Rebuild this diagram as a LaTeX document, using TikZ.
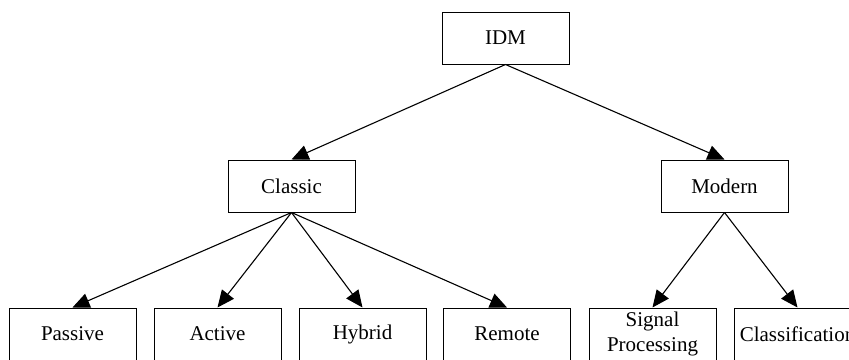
\documentclass[tikz,border=0pt]{standalone}
\usepackage{fontspec}
\setmainfont{Liberation Serif}
\usetikzlibrary{arrows.meta}
\begin{document}
\begin{tikzpicture}[x=1pt,y=-1pt,
  box/.style={draw, line width=1pt, minimum width=127pt, minimum height=52pt, inner sep=0pt, align=center, font=\fontsize{21}{25}\selectfont},
  edge/.style={line width=1.1pt, -{Triangle[length=17pt,width=15pt]}}]
\useasboundingbox (0,0) rectangle (849,359);
\clip (0,0) rectangle (849,359);
\node[box] (idm) at (505.5,38) {IDM};
\node[box] (classic) at (291.5,186) {Classic};
\node[box] (modern) at (724.5,186) {Modern};
\node[box] (passive) at (72.5,334) {Passive};
\node[box] (active) at (217.5,334) {Active};
\node[box] (hybrid) at (362.5,334) {Hybrid};
\node[box] (remote) at (507,334) {Remote};
\node[box] (signal) at (652.5,334) {Signal\\Processing};
\node[box] (class) at (797.5,334) {Classification};
\draw[edge] (idm.south) -- (classic.north);
\draw[edge] (idm.south) -- (modern.north);
\draw[edge] (classic.south) -- (passive.north);
\draw[edge] (classic.south) -- (active.north);
\draw[edge] (classic.south) -- (hybrid.north);
\draw[edge] (classic.south) -- (remote.north);
\draw[edge] (modern.south) -- (signal.north);
\draw[edge] (modern.south) -- (class.north);
\end{tikzpicture}
\end{document}
